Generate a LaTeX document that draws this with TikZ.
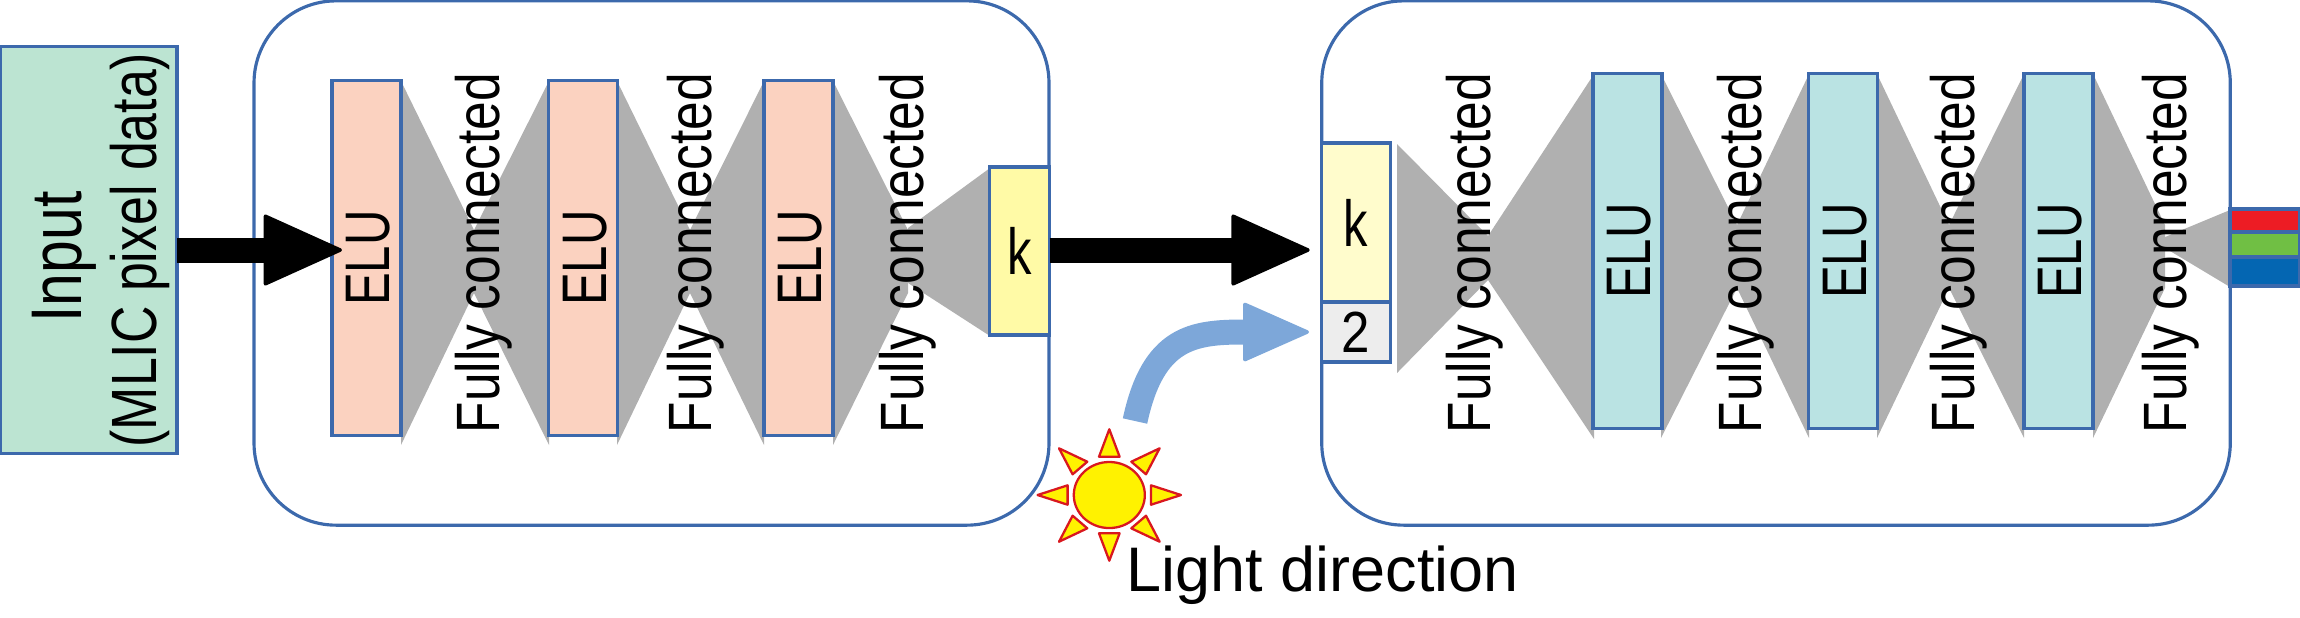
\documentclass[tikz,border=0pt]{standalone}
\usepackage{fontspec}
\setmainfont{Liberation Sans}
\usepackage{tikz}
\usetikzlibrary{arrows.meta}
\definecolor{boxblue}{HTML}{3C69AC}
\definecolor{sunred}{HTML}{D9181F}
\definecolor{sunyellow}{HTML}{FFF200}
\definecolor{elupink}{HTML}{FBD2C0}
\definecolor{eluteal}{HTML}{BAE3E3}
\definecolor{inputgreen}{HTML}{BCE4D2}
\definecolor{lightblue}{HTML}{7DA7D9}
\definecolor{outred}{HTML}{ED1C24}
\definecolor{outgreen}{HTML}{70BF44}
\definecolor{outblue}{HTML}{0466B2}
\newcommand{\fsize}[1]{\fontsize{#1}{#1}\selectfont}
\begin{document}
\begin{tikzpicture}[x=0.01cm,y=-0.01cm]
                \tikzstyle{box}=[draw=boxblue,line width=0.9pt,inner sep=0pt,outer sep=0pt]
                \tikzstyle{panel}=[box,rounded corners=0.82cm]
                \tikzstyle{elubox}=[box,minimum width=0.69cm,minimum height=3.55cm,font=\fsize{17.9}]
                \tikzstyle{fclabel}=[anchor=base,rotate=90,inner sep=0pt,font=\fsize{17.4}]
                \tikzstyle{fan}=[fill=black!31]
                \tikzstyle{ray}=[draw=sunred,fill=sunyellow,line width=0.65pt,line join=round]
                \tikzstyle{bigarrow}=[line width=7.1pt,-{Triangle[round,line width=1pt,length=23pt,width=20.5pt]}]
                \tikzstyle{lightarrow}=[line width=7.1pt,color=lightblue,-{Triangle[round,line width=1pt,length=19.5pt,width=17pt]}]
                \useasboundingbox (0,0) rectangle (2300,617);

                % outer panels
                \node[panel,minimum width=7.945cm,minimum height=5.24cm] (P-1) at (651.5,263) {};
                \node[panel,minimum width=9.08cm,minimum height=5.24cm] (P-2) at (1776,263) {};

                % gray fans between the layers
                \foreach \a/\w in {401/474, 549/474, 617/690, 764/690, 833/908}
                    \fill[fan] (\a,81) -- (\w,230) -- (\w,293) -- (\a,445) -- cycle;
                \foreach \a/\w in {1661/1737, 1809/1737, 1877/1949, 2024/1949, 2093/2165}
                    \fill[fan] (\a,74) -- (\w,225) -- (\w,288) -- (\a,438) -- cycle;
                \fill[fan] (990,168) -- (908,228) -- (908,283) -- (990,336) -- cycle;
                \fill[fan] (1397,144) -- (1488,236) -- (1594,74) -- (1594,439) -- (1488,280) -- (1397,373) -- cycle;
                \fill[fan] (2230,210) -- (2165,237) -- (2165,248) -- (2230,287) -- cycle;

                % layers
                \foreach \num/\x in {1/366.5, 2/583, 3/798.5}
                    \node[elubox,fill=elupink] (E-\num) at (\x,258) {\hspace*{1pt}\rotatebox{90}{\scalebox{.78}[1]{ELU}}};
                \foreach \num/\x in {1/1627.5, 2/1843, 3/2058.5}
                    \node[elubox,fill=eluteal] (R-\num) at (\x,251) {\hspace*{1pt}\rotatebox{90}{\scalebox{.78}[1]{ELU}}};
                \foreach \num/\x in {1/499, 2/711, 3/923, 4/1490, 5/1761, 6/1974, 7/2186}
                    \node[fclabel] (F-\num) at (\x,253) {\scalebox{.84}[1]{Fully connected}};

                % input
                \node[box,fill=inputgreen,minimum width=1.77cm,minimum height=4.06cm] (input) at (88.5,250) {};
                \node[anchor=base,rotate=90,inner sep=0pt,font=\fsize{20.4}] (I-1) at (81,257) {\scalebox{.82}[1]{Input}};
                \node[anchor=base,rotate=90,inner sep=0pt,font=\fsize{18.2}] (I-2) at (156,250) {\scalebox{.81}[1]{(MLIC pixel data)}};

                % latent codes
                \node[box,fill=yellow!35!white,minimum width=0.6cm,minimum height=1.68cm,font=\fsize{18.5}] (K-1) at (1019.5,251) {\scalebox{.75}[1]{k}};
                \node[box,fill=yellow!20!white,minimum width=0.685cm,minimum height=1.59cm,font=\fsize{18.5}] (K-2) at (1356,222.5) {\scalebox{.75}[1]{k}};
                \node[box,fill=black!7,minimum width=0.685cm,minimum height=0.6cm,font=\fsize{16.5}] (T-2) at (1356,332) {\scalebox{.88}[1]{2}};

                % output colours
                \node[box,fill=outred,minimum width=0.7cm,minimum height=0.23cm] (O-1) at (2265,220.5) {};
                \node[box,fill=outgreen,minimum width=0.7cm,minimum height=0.25cm] (O-2) at (2265,244.5) {};
                \node[box,fill=outblue,minimum width=0.7cm,minimum height=0.29cm] (O-3) at (2265,271.5) {};

                % sun
                \foreach \sx in {-1,1} {
                    \draw[ray] (1109.3+\sx*71.7,495) -- (1109.3+\sx*41.7,495-9.7) -- (1109.3+\sx*41.7,495+9.7) -- cycle;
                    \foreach \sy in {-1,1}
                        \draw[ray] (1109.3+\sx*50.3,495+\sy*46.7) -- (1109.3+\sx*22,495+\sy*33.3) -- (1109.3+\sx*36.7,495+\sy*20.7) -- cycle;
                }
                \foreach \sy in {-1,1}
                    \draw[ray] (1109.3,495+\sy*65.7) -- (1109.3-10.3,495+\sy*38.3) -- (1109.3+10.3,495+\sy*38.3) -- cycle;
                \draw[ray] (1109.3,495) ellipse (0.355cm and 0.33cm);
                \node[anchor=base west,inner sep=0pt,font=\fsize{17.9}] (L-1) at (1126,591) {Light direction};

                % arrows
                \draw[bigarrow,shorten >=-0.1cm] (input.east) -- (input.east -| E-1.west);
                \draw[bigarrow,shorten >=0.12cm] (input.east -| K-1.east) -- (input.east -| K-2.west);
                \coordinate (L-start) at (1135,421);
                \draw[lightarrow,shorten >=0.127cm] (L-start) .. controls (1153,337) and (1193,332) .. (T-2.west);
\end{tikzpicture}
\end{document}
